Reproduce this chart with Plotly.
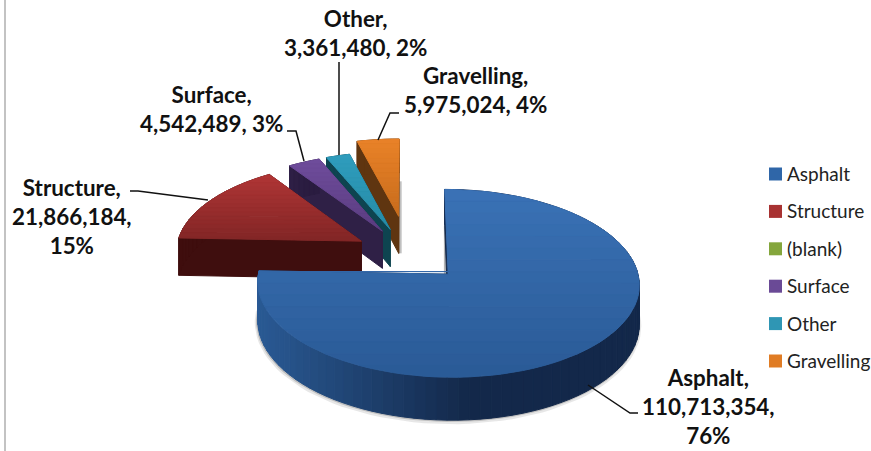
import math
import plotly.graph_objects as go

# ---- data ----
categories = ["Asphalt", "Structure", "(blank)", "Surface", "Other", "Gravelling"]
values = [110713354, 21866184, 0, 4542489, 3361480, 5975024]
label_breaks = {
    "Asphalt": "{c},<br>{v},<br>{p}",
    "Structure": "{c},<br>{v},<br>{p}",
    "Surface": "{c},<br>{v}, {p}",
    "Other": "{c},<br>{v}, {p}",
    "Gravelling": "{c},<br>{v}, {p}",
}

# ---- styling / geometry of the view ----
W, H = 871, 451
CX, CY = 408.0, 253.8
RADIUS = 186.0
EXPLODE = 55.0
K, A = 0.48, 0.000512
DEPTH = 38.0
NUDGE = {"Gravelling": (-2.5, -12.0), "Asphalt": (1.2, 1.0), "Structure": (0.8, 0.0), "Other": (-0.5, 0.0)}
TOP = {
    "Asphalt": ("#3a72b6", "#2a5a96"),
    "Structure": ("#b03636", "#822525"),
    "Surface": ("#6f4c9c", "#5a3d80"),
    "Other": ("#2f9dbd", "#268ba6"),
    "Gravelling": ("#e98228", "#c86c1c"),
}
SIDE = {
    "Asphalt": ("#2a5a94", "#13284a"),
    "Structure": ("#3f0e0e", "#3f0e0e"),
    "Surface": ("#2f2046", "#2a1c40"),
    "Other": ("#0e4450", "#0e4450"),
    "Gravelling": ("#5f3510", "#5f3510"),
}
SWATCH = {"Asphalt": "#2f66a8", "Structure": "#a83232", "(blank)": "#84a63c",
          "Surface": "#6a4a96", "Other": "#2f96b4", "Gravelling": "#e07c24"}
LABEL_POS = {"Asphalt": (708, 406), "Structure": (72, 216), "Surface": (211, 109),
             "Other": (355, 33), "Gravelling": (475, 90)}
LEADERS = {
    "Asphalt": [(588, 385), (630, 413), (638, 413)],
    "Structure": [(130, 191), (138, 191), (208, 200)],
    "Surface": [(287, 131), (296, 131), (304, 161)],
    "Other": [(339, 62), (339, 155)],
    "Gravelling": [(399, 113), (390, 113), (378, 140)],
}
FONT = "Lato, 'Open Sans', sans-serif"


def mix(c0, c1, t):
    t = max(0.0, min(1.0, t))
    a = [int(c0[i:i + 2], 16) for i in (1, 3, 5)]
    b = [int(c1[i:i + 2], 16) for i in (1, 3, 5)]
    return "rgb(%d,%d,%d)" % tuple(round(x + (y - x) * t) for x, y in zip(a, b))


def proj(x, y, nudge=(0.0, 0.0)):
    w = 1 + A * y
    return CX + x / w + nudge[0], CY - K * y / w + nudge[1], DEPTH / w


def clip(poly, y0, y1):
    def half(p, keep, edge):
        out = []
        for i in range(len(p)):
            a, b = p[i], p[(i + 1) % len(p)]
            ka, kb = keep(a), keep(b)
            if ka:
                out.append(a)
            if ka != kb:
                t = (edge - a[1]) / (b[1] - a[1])
                out.append((a[0] + (b[0] - a[0]) * t, edge))
        return out
    p = half(poly, lambda q: q[1] >= y0, y0)
    if p:
        p = half(p, lambda q: q[1] <= y1, y1)
    return p


fig = go.Figure()


def fill(pts, color):
    fig.add_trace(go.Scatter(
        x=[p[0] for p in pts] + [pts[0][0]], y=[p[1] for p in pts] + [pts[0][1]],
        mode="lines", fill="toself", fillcolor=color,
        line=dict(color=color, width=1), hoverinfo="skip", showlegend=False))


def line(pts, color, width):
    fig.add_trace(go.Scatter(
        x=[p[0] for p in pts], y=[p[1] for p in pts], mode="lines",
        line=dict(color=color, width=width), hoverinfo="skip", showlegend=False))


# slice geometry from the values
total = sum(values)
start = 0.0
slices = []
for c, v in zip(categories, values):
    if v > 0:
        sweep = 360.0 * v / total
        slices.append((c, start, start + sweep))
        start += sweep


def draw_slice(c, a0, a1):
    nudge = NUDGE.get(c, (0.0, 0.0))
    mid = math.radians((a0 + a1) / 2)
    ox, oy = EXPLODE * math.sin(mid), EXPLODE * math.cos(mid)
    n = max(6, int((a1 - a0) / 3))
    angs = [math.radians(a0 + (a1 - a0) * i / n) for i in range(n + 1)]
    rim = [proj(ox + RADIUS * math.sin(t), oy + RADIUS * math.cos(t), nudge) for t in angs]
    apex = proj(ox, oy, nudge)
    side0, side1 = SIDE[c]
    xs = [p[0] for p in rim]
    xmin, xmax = min(xs), max(xs)

    # soft shadow along the lower edges
    if c == "Asphalt":
        edge = [(p[0] - 0.5, p[1] + p[2] + 0.5) for p in rim if p[1] + p[2] > apex[1]]
        line([(x, y + 1) for x, y in edge], "rgba(120,120,120,0.18)", 5)
        line(edge, "rgba(90,90,90,0.28)", 2.5)
        line([(apex[0] - 3, apex[1] - 48), (apex[0] - 3, apex[1])], "rgba(130,130,130,0.6)", 2.5)
    if c == "Gravelling":
        line([(apex[0] + 1.5, apex[1] - 35), (apex[0] + 1.5, apex[1] + apex[2])], "rgba(130,130,130,0.5)", 3)

    # radial faces
    for e in (rim[-1], rim[0]):
        fill([(apex[0], apex[1]), (e[0], e[1]), (e[0], e[1] + e[2]), (apex[0], apex[1] + apex[2])],
             side0 if c != "Asphalt" else side1)
    # outer wall
    for i in range(n):
        p, q = rim[i], rim[i + 1]
        t = ((xmax - (p[0] + q[0]) / 2) / (xmax - xmin)) if xmax > xmin else 0
        fill([(p[0], p[1]), (q[0], q[1]), (q[0], q[1] + q[2]), (p[0], p[1] + p[2])],
             mix(side1, side0, (t - 0.45) / 0.55))
    # top face, shaded in horizontal bands
    poly = [(apex[0], apex[1])] + [(p[0], p[1]) for p in rim]
    ys = [p[1] for p in poly]
    y0, y1 = min(ys), max(ys)
    bands = 16
    c0, c1 = TOP[c]
    for b in range(bands):
        ya = y0 + (y1 - y0) * b / bands
        yb = y0 + (y1 - y0) * (b + 1) / bands
        part = clip(poly, ya, yb)
        if len(part) >= 3:
            fill(part, mix(c0, c1, (b + 0.5) / bands))


order = ["Gravelling", "Other", "Surface", "Structure", "Asphalt"]
lookup = {s[0]: s for s in slices}
for name in order:
    draw_slice(*lookup[name])

# leader lines
for pts in LEADERS.values():
    line(pts, "#111111", 1.5)

# frame edge
line([(5, 0), (5, H)], "#b4b4b4", 1.6)

annotations = []
# data labels
for c, v in zip(categories, values):
    if v > 0:
        txt = label_breaks[c].format(c=c, v=f"{v:,}", p=f"{round(100 * v / total)}%")
        x, y = LABEL_POS[c]
        annotations.append(dict(x=x, y=y, xref="x", yref="y", text=txt, showarrow=False,
                                align="center", xanchor="center", yanchor="middle",
                                font=dict(family=FONT, size=22.4, color="#111111", weight="bold")))

# legend key
key_y = [174 + 37.4 * i for i in range(len(categories))]
fig.add_trace(go.Scatter(
    x=[775.5] * len(categories), y=key_y, mode="markers",
    marker=dict(symbol="square", size=13, color=[SWATCH[c] for c in categories]),
    hoverinfo="skip", showlegend=False))
for c, y in zip(categories, key_y):
    annotations.append(dict(x=785, y=y - 0.5, xref="x", yref="y", text=c, showarrow=False,
                            xanchor="left", yanchor="middle",
                            font=dict(family=FONT, size=19, color="#222222")))

fig.update_layout(
    width=W, height=H, margin=dict(l=0, r=0, t=0, b=0),
    paper_bgcolor="white", plot_bgcolor="white", showlegend=False,
    xaxis=dict(range=[0, W], visible=False, fixedrange=True),
    yaxis=dict(range=[H, 0], visible=False, fixedrange=True),
    annotations=annotations,
)
fig.write_html("out.html", config={"displayModeBar": False},
               post_script="document.body.style.margin='0';")
